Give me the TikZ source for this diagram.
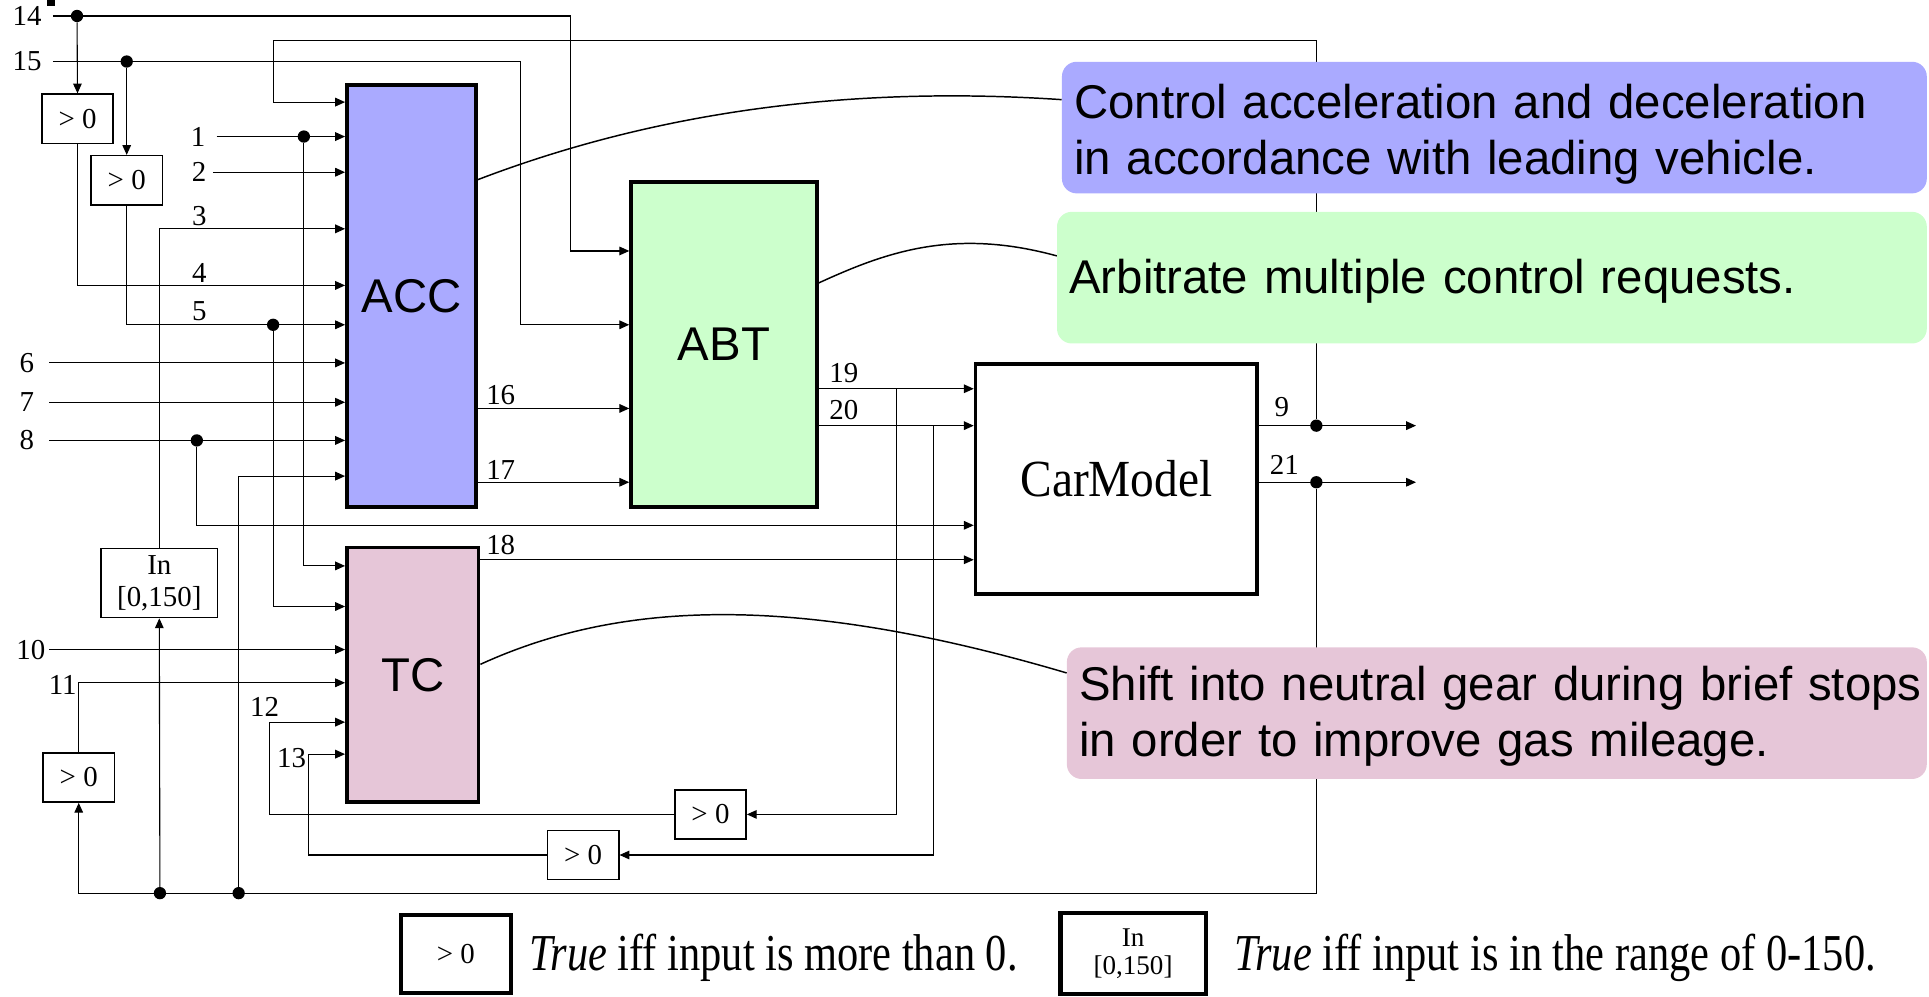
\documentclass[tikz,border=0pt]{standalone}
\usepackage{fontspec}
\setmainfont{Liberation Serif}
\setsansfont{Liberation Sans}
\usetikzlibrary{arrows.meta,positioning}
\definecolor{accfill}{HTML}{AAAAFF}
\definecolor{abtfill}{HTML}{CCFFCC}
\definecolor{tcfill}{HTML}{E6C6D8}
\newcommand{\numfont}{\fontsize{23.5}{26}\selectfont}
\newcommand{\bigsans}{\sffamily\fontsize{38.5}{46}\selectfont}
\newcommand{\tallrm}[2]{\scalebox{1}[#1]{#2}}

\begin{document}
\begin{tikzpicture}[x=1pt, y=-1pt, >={Triangle[length=8pt,width=7pt]},
    wire/.style={line width=0.9pt},
    block/.style={draw, line width=3pt, inner sep=0pt, font=\bigsans},
    cmp/.style={draw, line width=1.2pt, inner sep=0pt, minimum width=58pt,
                minimum height=40pt, font=\numfont, fill=white},
    num/.style={inner sep=1pt, font=\numfont},
    dot/.style={circle, fill, inner sep=0pt, minimum size=10pt},
    note/.style={rounded corners=12pt, inner xsep=10pt, inner ysep=0pt,
                anchor=north west, align=left, font=\bigsans, minimum height=107pt},
    legtext/.style={anchor=base west, inner sep=0pt, font=\fontsize{34.5}{40}\selectfont},
    link/.style={line width=1.2pt}]
  \useasboundingbox (0,0) rectangle (1568,810);
  \fill (38,0) rectangle (45,5);

  % blocks
  \node[block, fill=accfill, minimum width=105pt, minimum height=343pt] (ACC) at (334.5,240.5) {ACC};
  \node[block, fill=abtfill, minimum width=151pt, minimum height=264pt] (ABT) at (588.5,280) {ABT};
  \node[block, fill=tcfill, minimum width=107pt, minimum height=207pt] (TC) at (335.5,548.5) {TC};
  \node[block, font=\rmfamily\fontsize{38.5}{46}\selectfont, minimum width=229pt,
        minimum height=187pt] (car) at (907.5,389.5) {\tallrm{1.1}{CarModel}};

  % checks
  \node[cmp] (gt1) at (63,96.5) {> 0};
  \node[cmp] (gt2) at (103,146.5) {> 0};
  \node[cmp] (gt3) at (64,632) {> 0};
  \node[cmp] (gt4) at (577.5,662) {> 0};
  \node[cmp] (gt5) at (474,695) {> 0};
  \node[cmp, minimum width=95pt, minimum height=56pt, align=center] (range) at (129.5,474) {In\\{[0,150]}};

  % ports
  \foreach \y [count=\i from 0] in {83,111,140,186,232,264,295,327,358,387}
    \coordinate (acc\i) at (ACC.west |- 0,\y);
  \foreach \y [count=\i] in {204,264,332,392}
    \coordinate (abt\i) at (ABT.west |- 0,\y);
  \foreach \y [count=\i] in {460,493,528,555,587,613}
    \coordinate (tc\i) at (TC.west |- 0,\y);
  \foreach \y [count=\i] in {316,346,427,455}
    \coordinate (car\i) at (car.west |- 0,\y);

  \coordinate (in14) at (43,13);
  \coordinate (in15) at (43,50);
  \coordinate (in1) at (176,111);
  \coordinate (in2) at (173,140);
  \coordinate (in6) at (40,295);
  \coordinate (in7) at (40,327);
  \coordinate (in8) at (40,358);
  \coordinate (in10) at (40,528);
  \coordinate (out9) at (1151,346);
  \coordinate (out21) at (1151,392);
  \coordinate (j19) at (729,316);
  \coordinate (j20) at (759,346);
  \coordinate (k12) at (219,587);
  \coordinate (k13) at (251,613);

  % signal numbers
  \node[num, left=8pt of in14] (n14) {14};
  \node[num, left=8pt of in15] (n15) {15};
  \node[num, left=8pt of in1] (n1) {1};
  \node[num, left=4pt of in2] (n2) {2};
  \node[num, left=11pt of in6] (n6) {6};
  \node[num, left=11pt of in7] (n7) {7};
  \node[num, left=11pt of in8] (n8) {8};
  \node[num, left=2pt of in10] (n10) {10};
  \node[num] (n3) at (162,176) {3};
  \node[num] (n4) at (162,222) {4};
  \node[num] (n5) at (162,253) {5};
  \node[num] (n11) at (51,557) {11};
  \node[num] (n12) at (215,575) {12};
  \node[num] (n13) at (237,616) {13};
  \node[num] (n16) at (407,321) {16};
  \node[num] (n17) at (407,382) {17};
  \node[num] (n18) at (407,443) {18};
  \node[num] (n19) at (686,303) {19};
  \node[num] (n20) at (686,333) {20};
  \node[num] (n9) at (1042,331) {9};
  \node[num] (n21) at (1044,378) {21};

  % branch points
  \node[dot] (d14) at (62.6,13) {};
  \node[dot] (d15) at (103,50) {};
  \node[dot] (d1) at (247,111) {};
  \node[dot] (d5) at (222,264) {};
  \node[dot] (d8) at (160,358) {};
  \node[dot] (d9) at (1070,346) {};
  \node[dot] (d21) at (1070,392) {};
  \node[dot] (db1) at (130,726) {};
  \node[dot] (db2) at (194,726) {};

  % wires
  \draw[wire,->] (in14) -- (464,13) |- (abt1);
  \draw[wire,->] (d14) -- (gt1.north);
  \draw[wire,->] (in15) -- (423,50) |- (abt2);
  \draw[wire,->] (d15) -- (gt2.north);
  \draw[wire,->] (gt1.south) |- (acc4);
  \draw[wire,->] (gt2.south) |- (acc5);
  \draw[wire,->] (in1) -- (acc1);
  \draw[wire,->] (in2) -- (acc2);
  \draw[wire,->] (range.north) |- (acc3);
  \draw[wire,->] (in6) -- (acc6);
  \draw[wire,->] (in7) -- (acc7);
  \draw[wire,->] (in8) -- (acc8);
  \draw[wire,->] (db2) |- (acc9);
  \draw[wire,->] (d9) |- (222,33) |- (acc0);
  \draw[wire,->] (d1) |- (tc1);
  \draw[wire,->] (d5) |- (tc2);
  \draw[wire,->] (in10) -- (tc3);
  \draw[wire,->] (gt3.north) |- (tc4);
  \draw[wire,->] (gt4.west) -| (k12) -- (tc5);
  \draw[wire,->] (gt5.west) -| (k13) -- (tc6);
  \draw[wire,->] (ACC.east |- abt3) -- (abt3);
  \draw[wire,->] (ACC.east |- abt4) -- (abt4);
  \draw[wire,->] (ABT.east |- car1) -- (car1);
  \draw[wire,->] (ABT.east |- car2) -- (car2);
  \draw[wire,->] (d8) |- (car3);
  \draw[wire,->] (TC.east |- car4) -- (car4);
  \draw[wire,->] (j19) |- (gt4.east);
  \draw[wire,->] (j20) |- (gt5.east);
  \draw[wire,->] (car.east |- out9) -- (out9);
  \draw[wire,->] (car.east |- out21) -- (out21);
  \draw[wire,->] (d21) -- (1070,726) -| (gt3.south);
  \draw[wire,->] (db1) -- (range.south);

  % notes
  \node[note, fill=accfill, text width=683pt] (accnote) at (863,50)
    {\rule{0pt}{39pt}Control acceleration and deceleration\\in accordance with leading vehicle.};
  \node[note, fill=abtfill, text width=687pt] (abtnote) at (859,172)
    {\rule{0pt}{33pt}Arbitrate multiple control requests.};
  \node[note, fill=tcfill, text width=679pt] (tcnote) at (867,526)
    {\rule{0pt}{33pt}\mbox{Shift into neutral gear during brief stops}\\in order to improve gas mileage.};
  \draw[link] (ACC.east |- 0,146) .. controls (540,88) and (700,70) .. (accnote.west |- 0,81);
  \draw[link] (ABT.east |- 0,230) .. controls (720,205) and (775,185) .. (abtnote.west |- 0,208);
  \draw[link] (TC.east |- 0,540) .. controls (500,490) and (640,480) .. (tcnote.west |- 0,547);

  % legend
  \node[cmp, line width=3.3pt, minimum width=89pt, minimum height=64pt] (leg1) at (370.5,775.5) {> 0};
  \node[legtext] (legt1) at (430,789) {\tallrm{1.22}{\textit{True} iff input is more than 0.}};
  \node[cmp, line width=3.3pt, minimum width=118pt, minimum height=66pt, align=center,
        font=\fontsize{22}{23}\selectfont] (leg2) at (921,775) {In\\{[0,150]}};
  \node[legtext] (legt2) at (1003,789) {\tallrm{1.22}{\textit{True} iff input is in the range of 0-150.}};
\end{tikzpicture}
\end{document}
